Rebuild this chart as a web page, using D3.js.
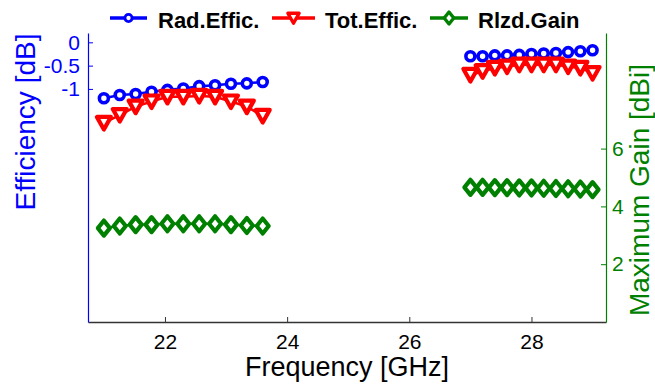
<!DOCTYPE html>
<html>
<head>
<meta charset="utf-8">
<script src="https://cdn.jsdelivr.net/npm/d3@7"></script>
<style>
  body { margin: 0; background: #fff; }
  text { font-family: "Liberation Sans", Arial, sans-serif; }
</style>
</head>
<body>
<div id="chart"></div>
<script>
// Data
var freqLow  = [21.0, 21.26, 21.52, 21.78, 22.04, 22.3, 22.56, 22.82, 23.08, 23.34, 23.6];
var freqHigh = [27.0, 27.2, 27.4, 27.6, 27.8, 28.0, 28.2, 28.4, 28.6, 28.8, 29.0];

var radLow  = [-1.20, -1.13, -1.11, -1.06, -1.02, -0.99, -0.94, -0.92, -0.89, -0.88, -0.85];
var radHigh = [-0.30, -0.30, -0.28, -0.28, -0.27, -0.25, -0.24, -0.23, -0.21, -0.19, -0.17];

var totLow  = [-1.73, -1.56, -1.38, -1.27, -1.17, -1.17, -1.15, -1.17, -1.27, -1.38, -1.58];
var totHigh = [-0.70, -0.62, -0.55, -0.52, -0.48, -0.48, -0.48, -0.48, -0.52, -0.55, -0.66];

var gainLow  = [3.25, 3.32, 3.37, 3.37, 3.40, 3.40, 3.40, 3.40, 3.37, 3.34, 3.32];
var gainHigh = [4.66, 4.66, 4.65, 4.65, 4.64, 4.64, 4.63, 4.62, 4.61, 4.60, 4.58];

var xTicks = [22, 24, 26, 28];
var leftTicks = [0, -0.5, -1];
var rightTicks = [2, 4, 6];

var legendNames = ["Rad.Effic.", "Tot.Effic.", "Rlzd.Gain"];

// colours
var blue = "#0000ff", red = "#ff0000", green = "#008000";

var width = 655, height = 385;
var margin = { top: 33, left: 88, right: 49, bottom: 63 };

var svg = d3.select("#chart").append("svg")
  .attr("width", width)
  .attr("height", height);

var x_scale = d3.scaleLinear()
  .domain([20.74, 29.22])
  .range([margin.left, width - margin.right]);

var yL = d3.scaleLinear()
  .domain([-6, 0.2])
  .range([height - margin.bottom, margin.top]);

var yR = d3.scaleLinear()
  .domain([0, 10])
  .range([height - margin.bottom, margin.top]);

// marker shapes
var triPath = "M-7,-6L7,-6L0,6.5Z";
var diaPath = "M0,-7.5L6,0L0,7.5L-6,0Z";

// x axis (ticks inside)
var gx = svg.append("g")
  .attr("transform", "translate(0," + (height - margin.bottom) + ")")
  .call(d3.axisBottom(x_scale).tickValues(xTicks).tickSizeInner(-5).tickSizeOuter(0).tickPadding(12));
gx.select(".domain").attr("stroke", "#333").attr("stroke-width", 1.5);
gx.selectAll(".tick line").attr("stroke", "#333");
gx.selectAll(".tick text").attr("font-size", 21).attr("fill", "#000");

// left axis
var gl = svg.append("g")
  .attr("transform", "translate(" + margin.left + ",0)")
  .call(d3.axisLeft(yL).tickValues(leftTicks).tickSizeInner(-5).tickSizeOuter(0).tickPadding(8)
    .tickFormat(function(d) { return d === 0 ? "0" : String(d); }));
gl.select(".domain").attr("stroke", blue).attr("stroke-width", 1.2);
gl.selectAll(".tick line").attr("stroke", blue);
gl.selectAll(".tick text").attr("font-size", 21).attr("fill", blue);

// right axis
var gr = svg.append("g")
  .attr("transform", "translate(" + (width - margin.right) + ",0)")
  .call(d3.axisRight(yR).tickValues(rightTicks).tickSizeInner(-5).tickSizeOuter(0).tickPadding(6));
gr.select(".domain").attr("stroke", green).attr("stroke-width", 1.2);
gr.selectAll(".tick line").attr("stroke", green);
gr.selectAll(".tick text").attr("font-size", 21).attr("fill", green);

// axis labels
svg.append("text")
  .attr("x", (margin.left + width - margin.right) / 2)
  .attr("y", 376)
  .attr("text-anchor", "middle")
  .attr("font-size", 27)
  .attr("fill", "#000")
  .text("Frequency [GHz]");

svg.append("text")
  .attr("transform", "translate(35,122) rotate(-90)")
  .attr("text-anchor", "middle")
  .attr("font-size", 28)
  .attr("fill", blue)
  .text("Efficiency [dB]");

svg.append("text")
  .attr("transform", "translate(649,190) rotate(-90)")
  .attr("text-anchor", "middle")
  .attr("font-size", 28)
  .attr("fill", green)
  .text("Maximum Gain [dBi]");

// draw one series group
function drawGroup(freqs, vals, yScale, color, kind) {
  var pts = freqs.map(function(f, i) { return [f, vals[i]]; });
  var line = d3.line()
    .x(function(d) { return x_scale(d[0]); })
    .y(function(d) { return yScale(d[1]); });
  svg.append("path")
    .datum(pts)
    .attr("d", line)
    .attr("fill", "none")
    .attr("stroke", color)
    .attr("stroke-width", 2.5);

  var g = svg.append("g");
  pts.forEach(function(d) {
    addMarker(g, x_scale(d[0]), yScale(d[1]), color, kind);
  });
}

function addMarker(g, cx, cy, color, kind) {
  if (kind === "circle") {
    g.append("circle")
      .attr("cx", cx).attr("cy", cy).attr("r", 4.5)
      .attr("fill", "#fff").attr("stroke", color).attr("stroke-width", 3.6);
  } else {
    g.append("path")
      .attr("d", kind === "tri" ? triPath : diaPath)
      .attr("transform", "translate(" + cx + "," + cy + ")")
      .attr("fill", "#fff").attr("stroke", color).attr("stroke-width", 4.2)
      .attr("stroke-linejoin", "round");
  }
}

drawGroup(freqLow, radLow, yL, blue, "circle");
drawGroup(freqHigh, radHigh, yL, blue, "circle");
drawGroup(freqLow, totLow, yL, red, "tri");
drawGroup(freqHigh, totHigh, yL, red, "tri");
drawGroup(freqLow, gainLow, yR, green, "dia");
drawGroup(freqHigh, gainHigh, yR, green, "dia");

// legend
var legendItems = [
  { name: legendNames[0], color: blue, kind: "circle", x0: 110, x1: 147, tx: 158 },
  { name: legendNames[1], color: red, kind: "tri", x0: 272, x1: 315, tx: 325 },
  { name: legendNames[2], color: green, kind: "dia", x0: 430, x1: 468, tx: 478 }
];
var lg = svg.append("g");
legendItems.forEach(function(it) {
  lg.append("line")
    .attr("x1", it.x0).attr("x2", it.x1)
    .attr("y1", 18).attr("y2", 18)
    .attr("stroke", it.color).attr("stroke-width", 3.5);
  var sub = lg.append("g")
    .attr("transform", "translate(" + ((it.x0 + it.x1) / 2) + ",18) scale(0.8)");
  addMarker(sub, 0, 0, it.color, it.kind);
  lg.append("text")
    .attr("x", it.tx).attr("y", 28)
    .attr("font-size", 22).attr("font-weight", "bold")
    .attr("fill", "#000")
    .text(it.name);
});
</script>
</body>
</html>
